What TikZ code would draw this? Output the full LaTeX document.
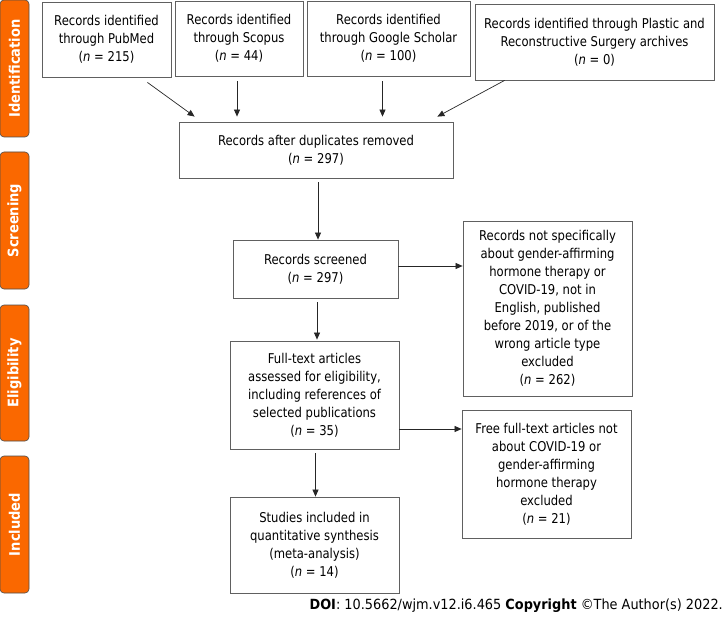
\documentclass[tikz,border=0pt]{standalone}
\usepackage{fontspec}
\setmainfont{DejaVu Sans}
\newfontfamily\narrowfont[FakeStretch=0.86]{DejaVu Sans}
\newfontfamily\sidefont[FakeStretch=0.9]{DejaVu Sans}
\newfontfamily\doifont[FakeStretch=0.92]{DejaVu Sans}
\usetikzlibrary{arrows.meta,calc}
\definecolor{orangeA}{HTML}{FA6800}
\definecolor{boxline}{HTML}{606060}
\begin{document}
\begin{tikzpicture}[x=1pt,y=-1pt,
 box/.style={draw=boxline, line width=0.8pt, align=center, inner sep=0pt, font=\narrowfont\fontsize{13.5}{18}\selectfont},
 sidebar/.style={draw=black!70, line width=0.6pt, fill=orangeA, rounded corners=4pt, inner sep=0pt, minimum width=29pt},
 sidetext/.style={text=white, font=\sidefont\bfseries\fontsize{14.5}{16}\selectfont, rotate=90},
 arr/.style={-{Triangle[length=7pt,width=6pt]}, line width=0.7pt, draw=black!85}]
\useasboundingbox (0,0) rectangle (727,620);
% side bars
\node[sidebar, minimum height=137pt] (sid) at (14.5,68.5) {};
\node[sidetext] (sidt) at (sid.center) {Identification};
\node[sidebar, minimum height=137pt] (ssc) at (14.5,220.5) {};
\node[sidetext] (ssct) at (ssc.center) {Screening};
\node[sidebar, minimum height=136pt] (sel) at (14.5,373) {};
\node[sidetext] (selt) at (sel.center) {Eligibility};
\node[sidebar, minimum height=137pt] (sin) at (14.5,524.5) {};
\node[sidetext] (sint) at (sin.center) {Included};
% boxes
\node[box, minimum width=129pt, minimum height=75pt] (pub) at (106.5,39.5) {Records identified\\through PubMed\\(\textit{n} = 215)};
\node[box, minimum width=128pt, minimum height=75pt] (scop) at (239,38.5) {Records identified\\through Scopus\\(\textit{n} = 44)};
\node[box, minimum width=163pt, minimum height=75pt] (goog) at (388.5,38.5) {Records identified\\through Google Scholar\\(\textit{n} = 100)};
\node[box, minimum width=239pt, minimum height=76pt] (plas) at (594.5,42) {Records identified through Plastic and\\Reconstructive Surgery archives\\(\textit{n} = 0)};
\node[box, minimum width=274pt, minimum height=56pt] (dup) at (316,150) {Records after duplicates removed\\(\textit{n} = 297)};
\node[box, minimum width=165pt, minimum height=58pt] (scr) at (315.5,269) {Records screened\\(\textit{n} = 297)};
\node[box, minimum width=169pt, minimum height=175pt] (exa) at (547.5,308.5) {Records not specifically\\about gender-affirming\\hormone therapy or\\COVID-19, not in\\English, published\\before 2019, or of the\\wrong article type\\excluded\\(\textit{n} = 262)};
\node[box, minimum width=169pt, minimum height=108pt] (ft) at (314.5,395) {Full-text articles\\assessed for eligibility,\\including references of\\selected publications\\(\textit{n} = 35)};
\node[box, minimum width=169pt, minimum height=128pt] (exb) at (546.5,474) {Free full-text articles not\\about COVID-19 or\\gender-affirming\\hormone therapy\\excluded\\(\textit{n} = 21)};
\node[box, minimum width=169pt, minimum height=96pt] (inc) at (314.5,545) {Studies included in\\quantitative synthesis\\(meta-analysis)\\(\textit{n} = 14)};
% arrows
\draw[arr] ($(pub.south east)+(-24,5)$) -- ($(dup.north west)+(16,-5)$);
\draw[arr] ($(scop.south)+(-2,5)$) -- ($(scop.south |- dup.north)+(-2,-5)$);
\draw[arr] ($(goog.south)+(-6,5)$) -- ($(goog.south |- dup.north)+(-6,-5)$);
\draw[arr] ($(plas.south west)+(30,0)$) -- ($(dup.north east)+(-16,-5)$);
\draw[arr] ($(dup.south)+(2,4)$) -- ($(dup.south |- scr.north)+(2,0)$);
\draw[arr] ($(scr.east)+(0,-3)$) -- ($(scr.east -| exa.west)+(0,-3)$);
\draw[arr] ($(scr.south)+(1.5,4)$) -- ($(scr.south |- ft.north)+(1.5,-1)$);
\draw[arr] ($(ft.east)+(0,34)$) -- ($(ft.east -| exb.west)+(0,34)$);
\draw[arr] ($(ft.south)+(1,4)$) -- ($(ft.south |- inc.north)+(1,0)$);
% footer
\node[anchor=east, inner sep=0pt, font=\doifont\fontsize{14}{16}\selectfont] (doi) at (723,606) {\textbf{DOI}: 10.5662/wjm.v12.i6.465 \textbf{Copyright} ©The Author(s) 2022.};
\end{tikzpicture}
\end{document}
